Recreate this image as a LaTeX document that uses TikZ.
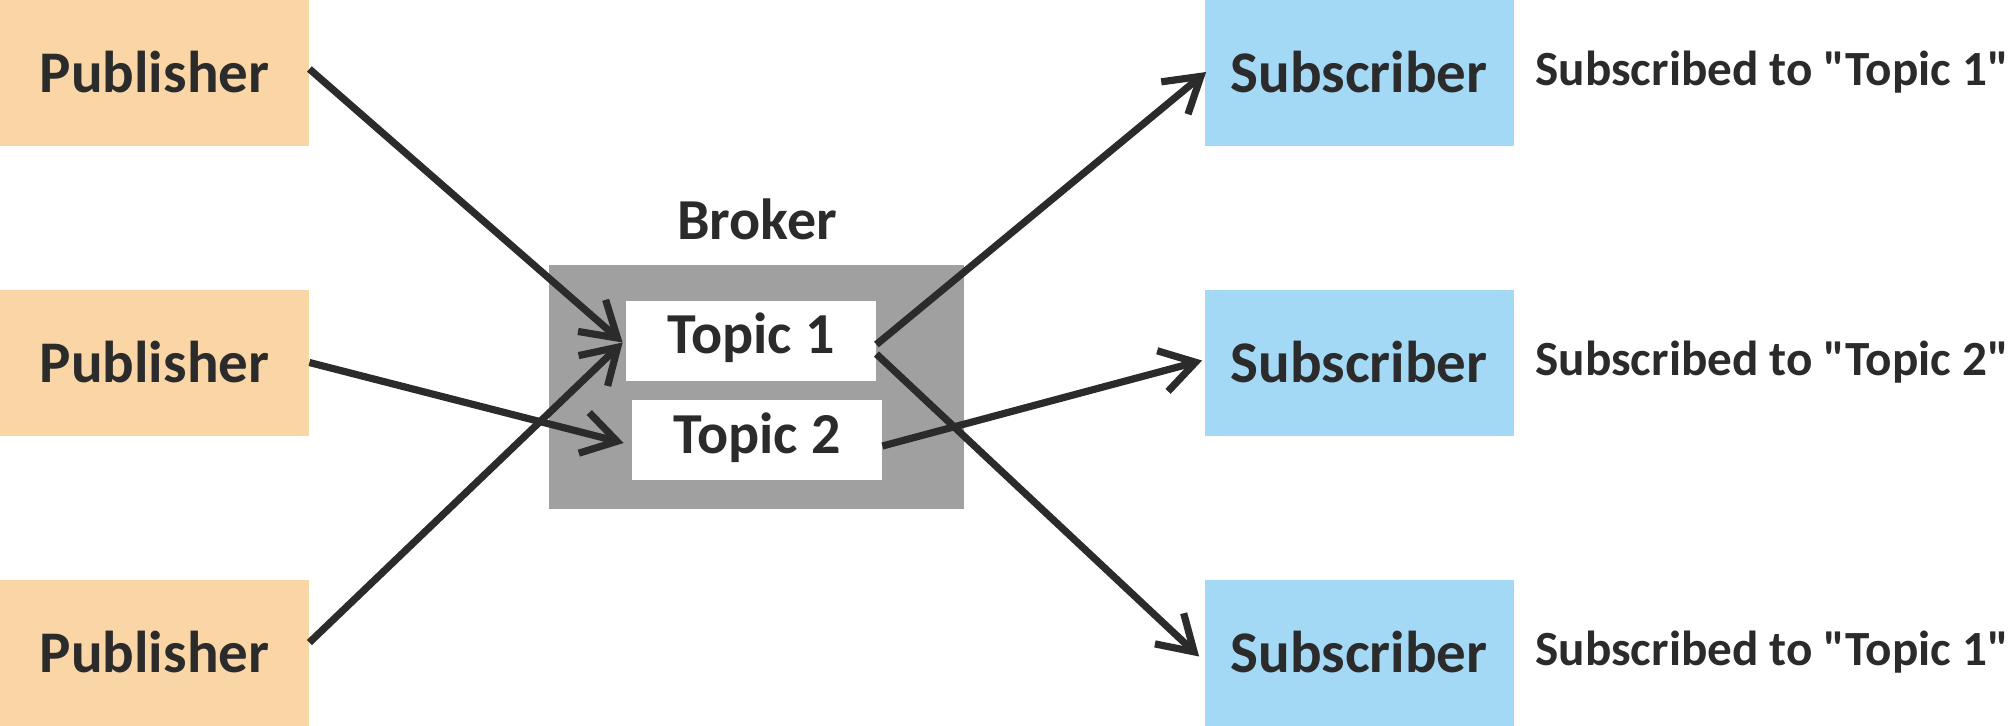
\documentclass[tikz,border=0pt]{standalone}
\usepackage{fontspec}
\setmainfont{Carlito}[Ligatures=TeXOff]
\usetikzlibrary{arrows.meta,positioning,calc}
\definecolor{pubfill}{HTML}{FAD5A6}
\definecolor{subfill}{HTML}{A4D9F6}
\definecolor{brokerfill}{HTML}{9FA09F}
\definecolor{ink}{HTML}{2B2B2B}
\begin{document}
\begin{tikzpicture}[x=0.5pt,y=-0.5pt,
  box/.style={inner sep=0pt, minimum width=154.5pt, minimum height=73pt,
     font=\fontsize{29.5}{31}\selectfont\bfseries, text=ink,
     text height=19.5pt, text depth=0pt},
  pub/.style={box, fill=pubfill},
  sub/.style={box, fill=subfill},
  topic/.style={inner sep=0pt, fill=white, minimum width=125pt, minimum height=40pt,
     font=\fontsize{29}{31}\selectfont\bfseries, text=ink,
     text height=13pt, text depth=0pt},
  note/.style={font=\fontsize{24.6}{26}\selectfont\bfseries, text=ink, inner sep=0pt, anchor=base west},
  conn/.style={draw=ink, line width=3.6pt, line cap=butt,
     -{Straight Barb[length=17pt,width=21pt,sharp]}}
]
\useasboundingbox (0,0) rectangle (2012,725);
\node[pub] (pub1) at (154.5,73) {Publisher};
\node[pub] (pub2) at (154.5,362.5) {Publisher};
\node[pub] (pub3) at (154.5,652.5) {Publisher};
\node[sub] (sub1) at (1359,73) {Subscriber};
\node[sub] (sub2) at (1359,362.5) {Subscriber};
\node[sub] (sub3) at (1359,652.5) {Subscriber};
\node[note] (n1) at (1535,85.5) {Subscribed to "Topic 1"};
\node[note] (n2) at (1535,375.5) {Subscribed to "Topic 2"};
\node[note] (n3) at (1535,665.5) {Subscribed to "Topic 1"};
\node[fill=brokerfill, inner sep=0pt, minimum width=207.5pt, minimum height=122pt] (broker) at (756.5,387) {};
\node[font=\fontsize{29}{31}\selectfont\bfseries, text=ink, anchor=base, inner sep=0pt] (blabel) at (757,239) {Broker};
\node[topic] (t1) at (751,340.5) {Topic 1};
\node[topic] (t2) at (757,440) {Topic 2};
\draw[conn] ([yshift=2pt]pub1.east) -- ([xshift=-1.5pt,yshift=-1pt]t1.west);
\draw[conn] (pub2.east) -- ([xshift=-4pt,yshift=-1.5pt]t2.west);
\draw[conn] ([yshift=5pt]pub3.east) -- ([xshift=-1.5pt,yshift=-1pt]t1.west);
\draw[conn] ([yshift=-2pt]t1.east) -- ([xshift=1pt,yshift=0.5pt]sub1.west);
\draw[conn] ([yshift=-3pt]t2.east) -- ([xshift=-1pt,yshift=1pt]sub2.west);
\draw[conn] ([yshift=-6.75pt]t1.east) -- ([xshift=-2.5pt,yshift=-2pt]sub3.west);
\end{tikzpicture}
\end{document}
